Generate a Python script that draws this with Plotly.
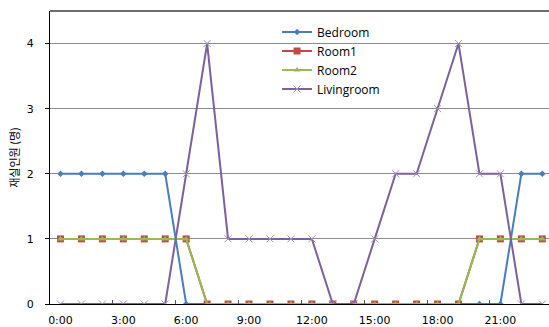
import plotly.graph_objects as go

# Hourly occupancy by room (people present)
hours = list(range(24))
hour_labels = [f"{h}:00" for h in hours]
tick_hours = [0, 3, 6, 9, 12, 15, 18, 21]
tick_text = [f"{h}:00" for h in tick_hours]

bedroom = [2, 2, 2, 2, 2, 2, 0, 0, 0, 0, 0, 0, 0, 0, 0, 0, 0, 0, 0, 0, 0, 0, 2, 2]
room1 = [1, 1, 1, 1, 1, 1, 1, 0, 0, 0, 0, 0, 0, 0, 0, 0, 0, 0, 0, 0, 1, 1, 1, 1]
room2 = [1, 1, 1, 1, 1, 1, 1, 0, 0, 0, 0, 0, 0, 0, 0, 0, 0, 0, 0, 0, 1, 1, 1, 1]
livingroom = [0, 0, 0, 0, 0, 0, 2, 4, 1, 1, 1, 1, 1, 0, 0, 1, 2, 2, 3, 4, 2, 2, 0, 0]

series = [
    ("Bedroom", bedroom, "#4A7EBB", dict(symbol="diamond", size=5, color="#4A7EBB")),
    ("Room1", room1, "#BE4B48", dict(symbol="square", size=7, color="#BE4B48")),
    ("Room2", room2, "#98B954", dict(symbol="triangle-up", size=6, color="#98B954")),
    ("Livingroom", livingroom, "#7D60A0",
     dict(symbol="x-thin", size=7, color="#A48FC4", line=dict(width=1, color="#A48FC4"))),
]

fig = go.Figure()
for name, vals, color, marker in series:
    fig.add_trace(go.Scatter(
        x=hours, y=vals, name=name, mode="lines+markers",
        line=dict(color=color, width=2), marker=marker,
        customdata=hour_labels, hovertemplate="%{customdata}: %{y}<extra>" + name + "</extra>",
    ))

fig.update_layout(
    width=549, height=327,
    margin=dict(l=50, r=0, t=11, b=23, autoexpand=False),
    plot_bgcolor="white", paper_bgcolor="white",
    showlegend=True,
    legend=dict(
        x=0.455, y=0.978, xanchor="left", yanchor="top",
        bgcolor="rgba(0,0,0,0)", borderwidth=0,
        font=dict(family="Open Sans", size=12, color="#000"),
    ),
    xaxis=dict(
        automargin=False,
        range=[-0.5, 23.32], tickmode="array", tickvals=tick_hours, ticktext=tick_text,
        showgrid=False, zeroline=False, showline=True, linecolor="#000", linewidth=1,
        ticks="", ticklabelstandoff=6,
        tickfont=dict(family="DejaVu Sans", size=11, color="#000"),
        minor=dict(tickmode="array", tickvals=[2.5, 5.5, 8.5, 11.5, 14.5, 17.5, 20.5],
                   ticks="inside", ticklen=4, tickcolor="#555", showgrid=False),
    ),
    yaxis=dict(
        automargin=False,
        range=[0, 4.5], tickvals=[0, 1, 2, 3, 4],
        showgrid=True, gridcolor="#8C8C8C", gridwidth=1, zeroline=False,
        showline=True, linecolor="#000", linewidth=1,
        ticks="outside", ticklen=4, tickcolor="#000", ticklabelstandoff=9,
        tickfont=dict(family="DejaVu Sans", size=11, color="#000"),
        title=dict(text="재실인원 (명)", standoff=4,
                   font=dict(family="Noto Sans CJK KR", size=11, color="#000")),
    ),
    shapes=[dict(type="line", xref="paper", yref="paper", x0=0, x1=1, y0=1, y1=1,
                 line=dict(color="#6E6E6E", width=2))],
)

fig.write_html("out.html")
